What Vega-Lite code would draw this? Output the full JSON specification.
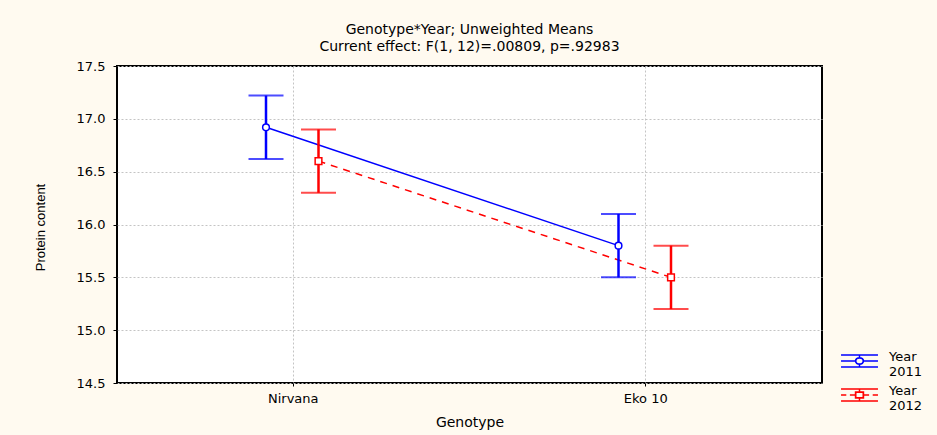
{
  "$schema": "https://vega.github.io/schema/vega-lite/v6.json",
  "width": 705,
  "height": 317,
  "autosize": {"type": "none"},
  "padding": {"left": 117, "top": 66, "right": 115, "bottom": 52},
  "background": "#fffaf0",
  "title": {
    "text": ["Genotype*Year; Unweighted Means", "Current effect: F(1, 12)=.00809, p=.92983"],
    "anchor": "middle",
    "frame": "group",
    "font": "DejaVu Sans",
    "fontSize": 14,
    "fontWeight": "normal",
    "lineHeight": 17,
    "offset": 6,
    "color": "black"
  },
  "config": {
    "view": {"fill": "white", "stroke": "black", "strokeWidth": 2},
    "axis": {
      "labelFont": "DejaVu Sans",
      "labelFontSize": 13,
      "labelColor": "black",
      "tickColor": "black",
      "titleColor": "black",
      "titleFontWeight": "normal",
      "domain": false,
      "grid": true,
      "gridColor": "#c4c4c4",
      "gridDash": [2, 2],
      "gridWidth": 1
    }
  },
  "data": {
    "values": [
      {"Genotype": "Nirvana", "Year": "2011", "mean": 16.92, "lo": 16.62, "hi": 17.22},
      {"Genotype": "Nirvana", "Year": "2012", "mean": 16.60, "lo": 16.30, "hi": 16.90},
      {"Genotype": "Eko 10", "Year": "2011", "mean": 15.80, "lo": 15.50, "hi": 16.10},
      {"Genotype": "Eko 10", "Year": "2012", "mean": 15.50, "lo": 15.20, "hi": 15.80}
    ]
  },
  "encoding": {
    "x": {
      "field": "Genotype",
      "type": "nominal",
      "sort": ["Nirvana", "Eko 10"],
      "scale": {"type": "band", "paddingInner": 0, "paddingOuter": 0},
      "axis": {
        "title": "Genotype",
        "labelAngle": 0,
        "bandPosition": 0.5,
        "tickSize": 3,
        "labelPadding": 6,
        "titleFont": "DejaVu Sans",
        "titleFontSize": 14,
        "titleX": 352.5,
        "titleY": 39,
        "titleAlign": "center",
        "titleBaseline": "middle"
      }
    },
    "xOffset": {
      "field": "Year",
      "type": "nominal",
      "scale": {"type": "point", "range": [149, 201.5], "padding": 0}
    }
  },
  "layer": [
    {
      "transform": [{"filter": "datum.Year === '2011'"}],
      "mark": {"type": "line", "strokeWidth": 1.5},
      "encoding": {
        "y": {
          "field": "mean",
          "type": "quantitative",
          "scale": {"domain": [14.5, 17.5], "nice": false, "zero": false},
          "axis": {
            "values": [14.5, 15, 15.5, 16, 16.5, 17, 17.5],
            "format": ".1f",
            "title": "Protein content",
            "titleFont": "Liberation Sans",
            "titleFontSize": 13,
            "titleX": -77,
            "titleY": 161,
            "titleAngle": -90,
            "titleAlign": "center",
            "titleBaseline": "middle",
            "tickSize": 4,
            "labelPadding": 8
          }
        },
        "color": {
          "field": "Year",
          "type": "nominal",
          "scale": {"domain": ["2011", "2012"], "range": ["#0000ff", "#ff0000"]},
          "legend": {
            "title": null,
            "orient": "none",
            "legendX": 729.5,
            "legendY": 282,
            "padding": 0,
            "symbolSize": 576,
            "symbolStrokeWidth": 1.5,
            "symbolFillColor": "white",
            "symbolOpacity": 1,
            "labelExpr": "['Year', datum.label]",
            "labelFont": "DejaVu Sans",
            "labelFontSize": 13,
            "labelColor": "black",
            "labelBaseline": "alphabetic",
            "labelOffset": 16.5,
            "rowPadding": 3
          }
        }
      }
    },
    {
      "transform": [{"filter": "datum.Year === '2012'"}],
      "mark": {"type": "line", "strokeWidth": 1.5, "strokeDash": [7, 6]},
      "encoding": {
        "y": {"field": "mean", "type": "quantitative"},
        "color": {"field": "Year", "type": "nominal"}
      }
    },
    {
      "mark": {"type": "rule", "strokeWidth": 2.5},
      "encoding": {
        "y": {"field": "lo", "type": "quantitative"},
        "y2": {"field": "hi"},
        "color": {"field": "Year", "type": "nominal"}
      }
    },
    {
      "mark": {"type": "tick", "thickness": 2, "size": 35},
      "encoding": {
        "y": {"field": "lo", "type": "quantitative"},
        "color": {"field": "Year", "type": "nominal", "legend": null}
      }
    },
    {
      "mark": {"type": "tick", "thickness": 2, "size": 35},
      "encoding": {
        "y": {"field": "hi", "type": "quantitative"},
        "color": {"field": "Year", "type": "nominal", "legend": null}
      }
    },
    {
      "transform": [{"filter": "datum.Year === '2011'"}],
      "mark": {"type": "point", "shape": "circle", "filled": false, "fill": "white", "strokeWidth": 1.5, "size": 45, "opacity": 1},
      "encoding": {
        "y": {"field": "mean", "type": "quantitative"},
        "color": {"field": "Year", "type": "nominal"}
      }
    },
    {
      "transform": [{"filter": "datum.Year === '2012'"}],
      "mark": {"type": "point", "shape": "square", "filled": false, "fill": "white", "strokeWidth": 1.5, "size": 45, "opacity": 1},
      "encoding": {
        "y": {"field": "mean", "type": "quantitative"},
        "color": {"field": "Year", "type": "nominal"}
      }
    },
    {
      "mark": {"type": "point", "filled": false, "size": 0, "opacity": 0},
      "encoding": {
        "y": {"field": "mean", "type": "quantitative"},
        "color": {"field": "Year", "type": "nominal"},
        "shape": {
          "field": "Year",
          "type": "nominal",
          "scale": {
            "domain": ["2011", "2012"],
            "range": [
              "M-1.54,-0.5H1.54M-1.54,0.5H1.54M-1.54,0H-0.33M0.33,0H1.54M0,-0.5V-0.3M0,0.3V0.5M0.33,0A0.33,0.28,0,1,1,-0.33,0A0.33,0.28,0,1,1,0.33,0ZM0.31,0A0.31,0.26,0,1,0,-0.31,0A0.31,0.26,0,1,0,0.31,0Z",
              "M-1.54,-0.5H1.54M-1.54,0.5H1.54M-1.54,0H-1.1M-0.8,0H-0.33M0.33,0H0.8M1.1,0H1.54M0,-0.5V-0.25M0,0.25V0.5M-0.33,-0.25H0.33V0.25H-0.33ZM-0.31,-0.23V0.23H0.31V-0.23Z"
            ]
          },
          "legend": null
        }
      }
    }
  ]
}
